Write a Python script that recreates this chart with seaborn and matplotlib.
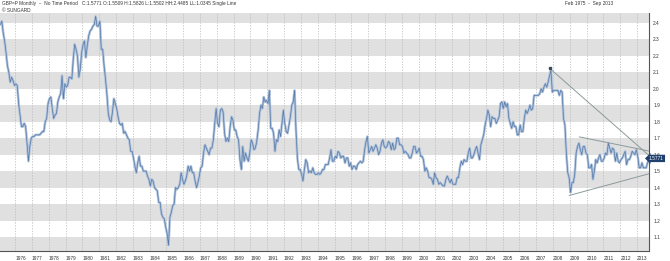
import numpy as np
import pandas as pd
import matplotlib
matplotlib.use("Agg")
import matplotlib.pyplot as plt
import matplotlib.transforms as mtransforms
import seaborn as sns

# ---------------- data (GBP/USD monthly, Feb 1975 - Sep 2013) ----------------
start_year, start_month = 1975, 2
gbp_close = [
    # 1975 (Feb-Dec)
    2.39, 2.41, 2.34, 2.29, 2.22, 2.14, 2.10, 2.04, 2.07, 2.05, 2.02,
    # 1976
    2.03, 2.02, 1.91, 1.84, 1.77, 1.77, 1.79, 1.77, 1.67, 1.56, 1.65, 1.70,
    # 1977
    1.71, 1.71, 1.72, 1.72, 1.72, 1.72, 1.73, 1.74, 1.74, 1.80, 1.82, 1.91,
    # 1978
    1.94, 1.95, 1.88, 1.82, 1.84, 1.85, 1.92, 1.95, 1.97, 2.08, 1.94, 2.03,
    # 1979
    2.01, 2.02, 2.07, 2.07, 2.06, 2.18, 2.27, 2.24, 2.20, 2.07, 2.12, 2.22,
    # 1980
    2.27, 2.29, 2.19, 2.26, 2.32, 2.35, 2.36, 2.38, 2.39, 2.44, 2.38, 2.38,
    # 1981
    2.41, 2.24, 2.24, 2.14, 2.06, 1.97, 1.85, 1.81, 1.80, 1.86, 1.94, 1.91,
    # 1982
    1.88, 1.83, 1.79, 1.78, 1.79, 1.73, 1.74, 1.72, 1.70, 1.69, 1.62, 1.62,
    # 1983
    1.58, 1.53, 1.49, 1.55, 1.59, 1.53, 1.53, 1.50, 1.50, 1.50, 1.47, 1.45,
    # 1984
    1.41, 1.45, 1.44, 1.40, 1.39, 1.38, 1.31, 1.31, 1.24, 1.22, 1.21, 1.16,
    # 1985
    1.12, 1.05, 1.22, 1.25, 1.29, 1.30, 1.40, 1.39, 1.40, 1.42, 1.49, 1.45,
    # 1986
    1.42, 1.44, 1.47, 1.53, 1.50, 1.53, 1.49, 1.49, 1.44, 1.40, 1.43, 1.47,
    # 1987
    1.52, 1.53, 1.61, 1.66, 1.64, 1.62, 1.60, 1.64, 1.64, 1.69, 1.79, 1.88,
    # 1988
    1.79, 1.77, 1.87, 1.88, 1.86, 1.73, 1.68, 1.70, 1.68, 1.77, 1.83, 1.81,
    # 1989
    1.75, 1.75, 1.71, 1.69, 1.57, 1.51, 1.65, 1.56, 1.61, 1.58, 1.56, 1.61,
    # 1990
    1.69, 1.67, 1.63, 1.64, 1.68, 1.75, 1.85, 1.90, 1.88, 1.95, 1.92, 1.93,
    # 1991
    1.91, 1.99, 1.76, 1.76, 1.73, 1.62, 1.69, 1.68, 1.75, 1.71, 1.79, 1.87,
    # 1992
    1.79, 1.74, 1.73, 1.78, 1.83, 1.90, 1.92, 1.99, 1.75, 1.58, 1.51, 1.51,
    # 1993
    1.48, 1.44, 1.51, 1.57, 1.55, 1.49, 1.50, 1.49, 1.52, 1.49, 1.48, 1.48,
    # 1994
    1.49, 1.48, 1.49, 1.51, 1.51, 1.54, 1.54, 1.54, 1.58, 1.63, 1.56, 1.56,
    # 1995
    1.59, 1.58, 1.62, 1.61, 1.58, 1.59, 1.59, 1.55, 1.58, 1.58, 1.53, 1.55,
    # 1996
    1.51, 1.53, 1.53, 1.51, 1.54, 1.55, 1.56, 1.55, 1.56, 1.63, 1.68, 1.71,
    # 1997
    1.61, 1.63, 1.65, 1.62, 1.64, 1.66, 1.64, 1.60, 1.62, 1.67, 1.69, 1.65,
    # 1998
    1.64, 1.65, 1.68, 1.67, 1.63, 1.67, 1.63, 1.64, 1.70, 1.70, 1.66, 1.66,
    # 1999
    1.65, 1.61, 1.62, 1.61, 1.60, 1.58, 1.58, 1.61, 1.65, 1.65, 1.61, 1.62,
    # 2000
    1.64, 1.59, 1.59, 1.57, 1.50, 1.52, 1.50, 1.46, 1.46, 1.45, 1.42, 1.49,
    # 2001
    1.46, 1.45, 1.42, 1.43, 1.42, 1.41, 1.41, 1.45, 1.47, 1.45, 1.43, 1.45,
    # 2002
    1.42, 1.42, 1.42, 1.46, 1.46, 1.52, 1.56, 1.54, 1.57, 1.56, 1.56, 1.61,
    # 2003
    1.64, 1.58, 1.58, 1.60, 1.63, 1.65, 1.61, 1.57, 1.66, 1.69, 1.72, 1.78,
    # 2004
    1.82, 1.87, 1.84, 1.77, 1.83, 1.82, 1.82, 1.79, 1.81, 1.83, 1.91, 1.92,
    # 2005
    1.88, 1.92, 1.89, 1.91, 1.82, 1.79, 1.76, 1.80, 1.77, 1.77, 1.72, 1.72,
    # 2006
    1.78, 1.74, 1.74, 1.82, 1.87, 1.85, 1.87, 1.90, 1.87, 1.88, 1.96, 1.96,
    # 2007
    1.96, 1.96, 1.97, 2.00, 1.98, 2.01, 2.03, 2.01, 2.04, 2.08, 2.11, 1.98,
    # 2008
    1.99, 1.99, 1.99, 1.99, 1.96, 1.99, 1.98, 1.82, 1.78, 1.61, 1.49, 1.46,
    # 2009
    1.37, 1.43, 1.43, 1.48, 1.61, 1.65, 1.67, 1.63, 1.60, 1.65, 1.65, 1.61,
    # 2010
    1.60, 1.52, 1.52, 1.54, 1.45, 1.50, 1.57, 1.55, 1.58, 1.60, 1.56, 1.56,
    # 2011
    1.58, 1.61, 1.60, 1.67, 1.64, 1.61, 1.64, 1.63, 1.56, 1.61, 1.56, 1.55,
    # 2012
    1.57, 1.58, 1.60, 1.62, 1.54, 1.57, 1.57, 1.59, 1.62, 1.61, 1.60, 1.63,
    # 2013 (Jan-Sep)
    1.59, 1.52, 1.52, 1.55, 1.52, 1.52, 1.52, 1.55, 1.5771,
]

year_ticks = list(range(1976, 2014))
price_ticks = [1.1, 1.2, 1.3, 1.4, 1.5, 1.6, 1.7, 1.8, 1.9, 2.0, 2.1, 2.2, 2.3, 2.4]
band_lows = [1.0, 1.2, 1.4, 1.6, 1.8, 2.0, 2.2, 2.4]

# trend lines drawn on the chart (decimal year, price)
trend_long_x = [2007.80, 2013.71]
trend_long_y = [2.124, 1.595]
trend_top_x = [2009.56, 2013.71]
trend_top_y = [1.708, 1.622]
trend_bottom_x = [2008.96, 2013.71]
trend_bottom_y = [1.352, 1.484]

last_close = 1.5771
header_left = ("GBP=P Monthly  ~  No Time Period   C:1.5771 O:1.5509 H:1.5826 "
               "L:1.5502 HH:2.4485 LL:1.0345 Single Line")
header_copy = "\u00a9 SUNGARD"
header_right = "Feb 1975  -  Sep 2013"

# ---------------- build frame ----------------
n = len(gbp_close)
month_index = np.arange(n) + (start_month - 1)
decimal_year = start_year + (month_index + 0.5) / 12.0
df = pd.DataFrame({"t": decimal_year, "close": gbp_close})

# ---------------- style ----------------
sns.set_style("white")
plt.rcParams["font.family"] = ["Liberation Sans", "DejaVu Sans"]

fig = plt.figure(figsize=(6.70, 2.61), dpi=100)
ax = fig.add_axes([0.0, 10 / 261, 649 / 670, (251 - 13) / 261])

ax.set_xlim(1975.10, 2013.71)
ax.set_ylim(1.015, 2.46)

for lo in band_lows:
    ax.axhspan(lo, lo + 0.1, color="#e0e0e0", lw=0, zorder=0)
for yr in year_ticks:
    ax.axvline(yr, color="#b8b8b8", lw=0.5, ls=(0, (2, 2)), zorder=0.5)

sns.lineplot(data=df, x="t", y="close", ax=ax, color="#aec2dc", lw=1.8,
             zorder=2, legend=False)
sns.lineplot(data=df, x="t", y="close", ax=ax, color="#5678a6", lw=0.5,
             zorder=3, legend=False)

line_col = "#8c9a9c"
ax.plot(trend_long_x, trend_long_y, color=line_col, lw=0.7, zorder=4)
ax.plot(trend_top_x, trend_top_y, color=line_col, lw=0.7, zorder=4)
ax.plot(trend_bottom_x, trend_bottom_y, color=line_col, lw=0.7, zorder=4)
ax.plot(trend_long_x[:1], trend_long_y[:1], "s", color="#3a4a5a", ms=1.5, zorder=5)

ax.set_xlabel("")
ax.set_ylabel("")
ax.set_xticks(year_ticks)
ax.set_xticklabels([str(y) for y in year_ticks])
for lab in ax.get_xticklabels():
    lab.set_horizontalalignment("left")
ax.tick_params(axis="x", direction="out", length=2.5, width=0.5, color="#666666",
               labelsize=3.4, labelcolor="#333333", pad=0.8)

ax.yaxis.tick_right()
ax.set_yticks(price_ticks)
ax.set_yticklabels([f"{v:.1f}" for v in price_ticks])
ax.tick_params(axis="y", length=0, labelsize=3.4, labelcolor="#333333", pad=3)

for side in ["top", "left"]:
    ax.spines[side].set_visible(False)
for side in ["bottom", "right"]:
    ax.spines[side].set_color("#555555")
    ax.spines[side].set_linewidth(0.8)

trans = mtransforms.blended_transform_factory(ax.transAxes, ax.transData)
ax.text(1.0, last_close, f"{last_close:.4f}", transform=trans, ha="left", va="center",
        fontsize=3.4, color="white", zorder=10, clip_on=False,
        bbox=dict(boxstyle="larrow,pad=0.25", fc="#1f3f6e", ec="none"))

fig.text(2 / 670, 1 - 4 / 261, header_left, fontsize=3.4, color="#333333",
         ha="left", va="center")
fig.text(2 / 670, 1 - 10.5 / 261, header_copy, fontsize=3.4, color="#333333",
         ha="left", va="center")
fig.text(613 / 670, 1 - 4 / 261, header_right, fontsize=3.4, color="#333333",
         ha="right", va="center")

fig.savefig("out.png", dpi=100)
